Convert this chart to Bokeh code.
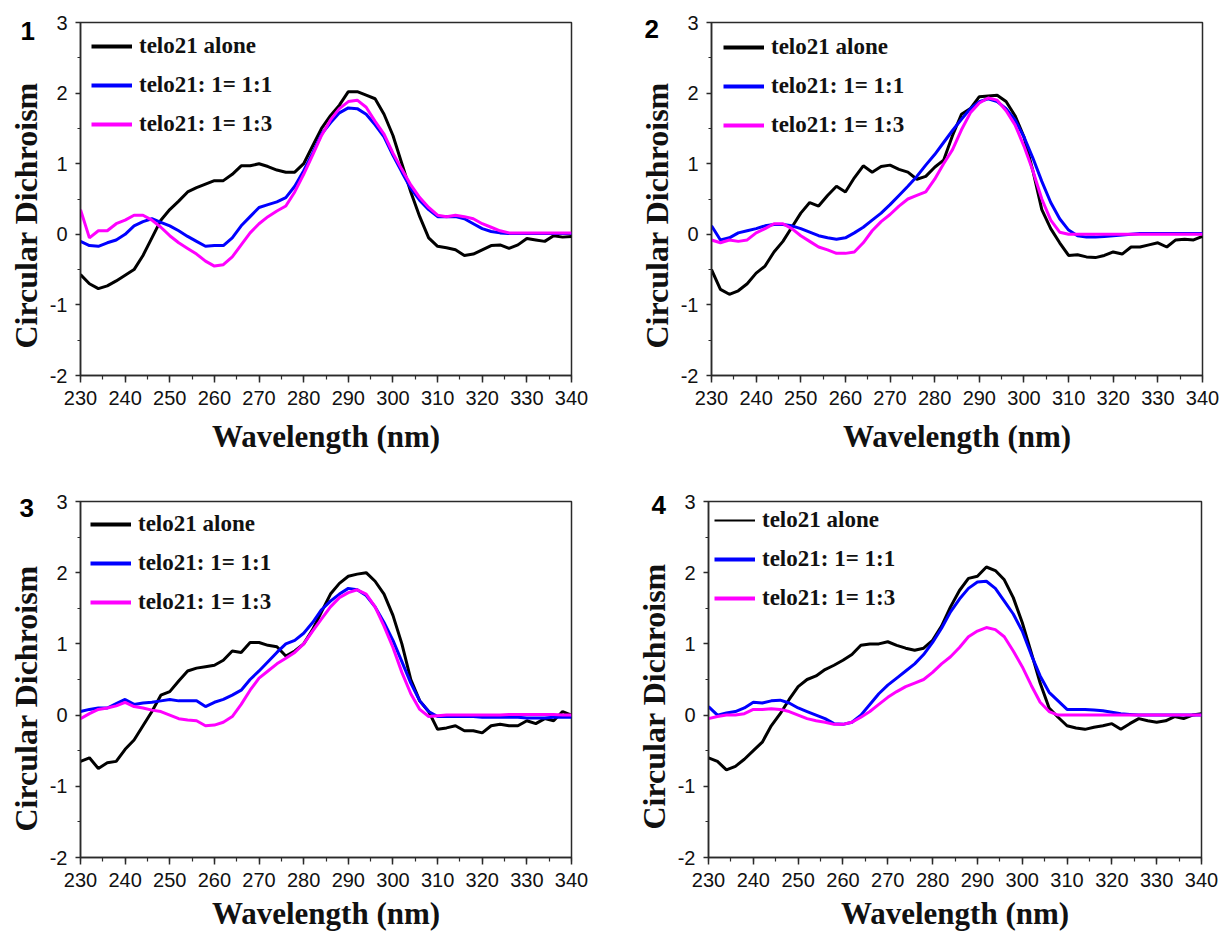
import math
from bokeh.plotting import figure
from bokeh.models import (Range1d, SingleIntervalTicker, LinearAxis,
                          Legend, LegendItem, Title)
from bokeh.layouts import column, row
from bokeh.embed import file_html
from bokeh.resources import INLINE

wavelength = list(range(230, 341, 2))

series_labels = ["telo21 alone", "telo21: 1= 1:1", "telo21: 1= 1:3"]
series_colors = ["#000000", "#0000FF", "#FF00FF"]
panel_names = ["1", "2", "3", "4"]
x_title = "Wavelength (nm)"
y_title = "Circular Dichroism"

p1_alone = [-0.57, -0.70, -0.77, -0.73, -0.66, -0.58, -0.50, -0.30, -0.05, 0.20,
            0.35, 0.47, 0.60, 0.66, 0.71, 0.76, 0.76, 0.85, 0.97, 0.97,
            1.00, 0.96, 0.91, 0.88, 0.88, 1.00, 1.25, 1.50, 1.68, 1.83,
            2.02, 2.02, 1.97, 1.92, 1.70, 1.40, 1.00, 0.60, 0.25, -0.05,
            -0.17, -0.19, -0.22, -0.30, -0.28, -0.22, -0.16, -0.15, -0.20, -0.15,
            -0.06, -0.08, -0.10, -0.02, -0.04, -0.03]
p1_r11 = [-0.10, -0.16, -0.17, -0.12, -0.08, 0.00, 0.12, 0.18, 0.22, 0.17,
          0.12, 0.05, -0.03, -0.10, -0.17, -0.16, -0.16, -0.05, 0.12, 0.25,
          0.38, 0.42, 0.46, 0.52, 0.68, 0.90, 1.15, 1.42, 1.58, 1.72,
          1.79, 1.78, 1.70, 1.55, 1.38, 1.12, 0.88, 0.65, 0.48, 0.35,
          0.25, 0.25, 0.25, 0.22, 0.15, 0.08, 0.04, 0.02, 0.01, 0.01,
          0.01, 0.01, 0.01, 0.01, 0.01, 0.01]
p1_r13 = [0.35, -0.05, 0.05, 0.05, 0.15, 0.20, 0.27, 0.27, 0.20, 0.10,
          -0.02, -0.12, -0.20, -0.28, -0.38, -0.45, -0.43, -0.32, -0.15, 0.02,
          0.15, 0.25, 0.33, 0.40, 0.60, 0.85, 1.12, 1.40, 1.62, 1.78,
          1.88, 1.90, 1.80, 1.60, 1.42, 1.15, 0.92, 0.70, 0.52, 0.38,
          0.27, 0.25, 0.27, 0.25, 0.22, 0.15, 0.10, 0.05, 0.02, 0.02,
          0.02, 0.02, 0.02, 0.02, 0.02, 0.02]

p2_alone = [-0.50, -0.78, -0.85, -0.80, -0.70, -0.55, -0.45, -0.25, -0.10, 0.10,
            0.30, 0.45, 0.40, 0.55, 0.68, 0.60, 0.80, 0.97, 0.88, 0.96,
            0.98, 0.92, 0.88, 0.78, 0.82, 0.95, 1.05, 1.40, 1.70, 1.78,
            1.95, 1.96, 1.97, 1.88, 1.68, 1.38, 0.90, 0.35, 0.08, -0.12,
            -0.30, -0.29, -0.32, -0.33, -0.30, -0.25, -0.28, -0.18, -0.18, -0.15,
            -0.12, -0.18, -0.08, -0.07, -0.08, -0.03]
p2_r11 = [0.12, -0.08, -0.05, 0.02, 0.05, 0.08, 0.12, 0.14, 0.14, 0.12,
          0.08, 0.03, -0.02, -0.05, -0.07, -0.05, 0.02, 0.10, 0.20, 0.30,
          0.42, 0.55, 0.68, 0.82, 0.98, 1.13, 1.30, 1.47, 1.63, 1.78,
          1.88, 1.92, 1.88, 1.78, 1.62, 1.38, 1.08, 0.75, 0.45, 0.22,
          0.06, -0.02, -0.04, -0.04, -0.03, -0.02, -0.01, 0.00, 0.01, 0.01,
          0.01, 0.01, 0.01, 0.01, 0.01, 0.01]
p2_r13 = [-0.08, -0.12, -0.08, -0.10, -0.08, 0.02, 0.08, 0.15, 0.15, 0.08,
          -0.02, -0.10, -0.18, -0.22, -0.27, -0.27, -0.25, -0.12, 0.05, 0.18,
          0.28, 0.40, 0.50, 0.55, 0.60, 0.78, 1.00, 1.20, 1.48, 1.72,
          1.86, 1.93, 1.90, 1.75, 1.55, 1.25, 0.90, 0.50, 0.20, 0.03,
          0.00, 0.00, 0.00, 0.00, 0.00, 0.00, 0.00, 0.00, 0.00, 0.00,
          0.00, 0.00, 0.00, 0.00, 0.00, 0.00]

p3_alone = [-0.65, -0.60, -0.75, -0.67, -0.65, -0.48, -0.35, -0.15, 0.05, 0.28,
            0.33, 0.48, 0.62, 0.66, 0.68, 0.70, 0.77, 0.90, 0.88, 1.02,
            1.02, 0.98, 0.96, 0.83, 0.90, 1.00, 1.20, 1.45, 1.70, 1.85,
            1.95, 1.98, 2.00, 1.88, 1.70, 1.40, 1.00, 0.50, 0.20, 0.05,
            -0.20, -0.18, -0.15, -0.22, -0.22, -0.25, -0.15, -0.13, -0.15, -0.15,
            -0.08, -0.12, -0.05, -0.08, 0.05, 0.00]
p3_r11 = [0.05, 0.08, 0.10, 0.10, 0.16, 0.22, 0.15, 0.17, 0.18, 0.20,
          0.22, 0.20, 0.20, 0.20, 0.12, 0.18, 0.22, 0.28, 0.35, 0.50,
          0.62, 0.75, 0.88, 1.00, 1.05, 1.15, 1.30, 1.48, 1.60, 1.70,
          1.78, 1.76, 1.68, 1.52, 1.30, 1.05, 0.75, 0.45, 0.20, 0.05,
          -0.02, -0.02, -0.02, -0.02, -0.02, -0.03, -0.03, -0.03, -0.03, -0.03,
          -0.04, -0.04, -0.04, -0.03, -0.03, -0.03]
p3_r13 = [-0.05, 0.02, 0.08, 0.10, 0.13, 0.18, 0.12, 0.10, 0.07, 0.05,
          0.00, -0.05, -0.07, -0.08, -0.15, -0.14, -0.10, -0.02, 0.15, 0.35,
          0.52, 0.62, 0.72, 0.80, 0.88, 1.00, 1.18, 1.35, 1.52, 1.65,
          1.72, 1.76, 1.70, 1.52, 1.25, 0.95, 0.60, 0.30, 0.08, -0.02,
          -0.01, 0.00, 0.00, 0.00, 0.00, 0.00, 0.00, 0.00, 0.01, 0.01,
          0.01, 0.01, 0.01, 0.01, 0.00, 0.00]

p4_alone = [-0.60, -0.65, -0.77, -0.72, -0.62, -0.50, -0.38, -0.15, 0.02, 0.22,
            0.40, 0.50, 0.55, 0.64, 0.70, 0.77, 0.85, 0.98, 1.00, 1.00,
            1.03, 0.98, 0.94, 0.91, 0.94, 1.05, 1.25, 1.52, 1.75, 1.92,
            1.95, 2.08, 2.03, 1.90, 1.65, 1.30, 0.88, 0.45, 0.10, -0.03,
            -0.15, -0.18, -0.20, -0.17, -0.15, -0.12, -0.20, -0.12, -0.05, -0.08,
            -0.10, -0.08, -0.02, -0.05, 0.00, 0.02]
p4_r11 = [0.12, 0.00, 0.03, 0.05, 0.10, 0.18, 0.17, 0.20, 0.21, 0.17,
          0.10, 0.05, 0.00, -0.05, -0.12, -0.13, -0.10, 0.00, 0.15, 0.30,
          0.42, 0.52, 0.62, 0.72, 0.85, 1.02, 1.22, 1.45, 1.63, 1.78,
          1.87, 1.88, 1.78, 1.60, 1.42, 1.18, 0.85, 0.55, 0.32, 0.20,
          0.08, 0.08, 0.08, 0.07, 0.06, 0.04, 0.02, 0.01, 0.00, 0.00,
          0.00, 0.00, 0.00, 0.00, 0.00, 0.00]
p4_r13 = [-0.05, -0.02, 0.00, 0.00, 0.02, 0.08, 0.08, 0.09, 0.08, 0.05,
          0.00, -0.05, -0.08, -0.10, -0.13, -0.13, -0.10, -0.03, 0.05, 0.15,
          0.25, 0.33, 0.40, 0.45, 0.50, 0.60, 0.72, 0.82, 0.95, 1.10,
          1.18, 1.23, 1.20, 1.10, 0.90, 0.68, 0.42, 0.18, 0.05, 0.00,
          0.00, 0.00, 0.00, 0.00, 0.00, 0.00, 0.00, 0.00, 0.00, 0.00,
          0.00, 0.00, 0.00, 0.00, 0.00, 0.00]

X_MIN, X_MAX = 230, 340
Y_MIN, Y_MAX = -2, 3

AX_COLOR = "#2a2a2a"
TXT = "#111111"
SANS = "Liberation Sans"
SERIF = "Liberation Serif"
NAN = float("nan")


def make_panel(name, data, width, height, borders, legend_margin, ytitle_offset,
               xtitle_standoff, num_offset, num_standoff, black_legend_w=4):
    left, right, top, bottom = borders
    p = figure(width=width, height=height, output_backend="svg",
               toolbar_location=None, x_range=Range1d(X_MIN, X_MAX),
               y_range=Range1d(Y_MIN, Y_MAX),
               min_border_left=left, min_border_right=right,
               min_border_top=top, min_border_bottom=bottom,
               x_axis_type=None, y_axis_type=None)
    p.xgrid.visible = False
    p.ygrid.visible = False
    p.outline_line_color = AX_COLOR
    p.outline_line_width = 1.5
    p.background_fill_color = "white"
    p.border_fill_color = "white"

    xb = LinearAxis(ticker=SingleIntervalTicker(interval=10, num_minor_ticks=2))
    xb.major_tick_out = 7
    xb.major_tick_in = 0
    xb.minor_tick_out = 4
    xb.minor_tick_in = 0
    xb.major_label_standoff = 8
    xb.axis_label = x_title
    xb.axis_label_standoff = xtitle_standoff
    xb.axis_label_text_font = SERIF
    xb.axis_label_text_font_style = "bold"
    xb.axis_label_text_font_size = "31px"
    xb.axis_label_text_color = TXT
    yl = LinearAxis(ticker=SingleIntervalTicker(interval=1, num_minor_ticks=2))
    yl.major_tick_out = 5
    yl.major_tick_in = 0
    yl.minor_tick_out = 3
    yl.minor_tick_in = 0
    yl.major_label_standoff = 8
    yl.major_label_overrides = {-2: "-2", -1: "-1"}
    for ax in (xb, yl):
        ax.major_label_text_font = SANS
        ax.major_label_text_font_size = "20px"
        ax.major_label_text_color = TXT
        ax.axis_line_color = AX_COLOR
        ax.axis_line_width = 1.5
        ax.major_tick_line_color = AX_COLOR
        ax.major_tick_line_width = 1.5
        ax.minor_tick_line_color = AX_COLOR
        ax.minor_tick_line_width = 1.2
    p.add_layout(xb, "below")
    p.add_layout(yl, "left")
    p.add_layout(Title(text=y_title, align="left", offset=ytitle_offset, standoff=6,
                       text_font=SERIF, text_font_style="bold",
                       text_font_size="32px", text_color=TXT), "left")

    for vals, col in zip(data, series_colors):
        p.line(wavelength, vals, line_color=col, line_width=3)
    items = []
    for i, (lab, col) in enumerate(zip(series_labels, series_colors)):
        lw = black_legend_w if i == 0 else 4
        r = p.line(x=[NAN], y=[NAN], line_color=col, line_width=lw)
        items.append(LegendItem(label=lab, renderers=[r]))
    leg = Legend(items=items, location="top_left")
    leg.margin = legend_margin
    leg.padding = 0
    leg.border_line_color = None
    leg.background_fill_alpha = 0
    leg.glyph_width = 41
    leg.glyph_height = 24
    leg.label_height = 24
    leg.spacing = 13
    leg.label_standoff = 7
    leg.label_text_font = SERIF
    leg.label_text_font_style = "bold"
    leg.label_text_font_size = "23px"
    leg.label_text_color = TXT
    p.add_layout(leg)

    num = Title(text=name, align="left", offset=num_offset, standoff=0,
                vertical_align="bottom", text_font=SANS, text_font_style="bold",
                text_font_size="26px", text_color="#000000")
    try:
        num.standoff = num_standoff
    except Exception:
        num.standoff = 0
    p.add_layout(num, "above")
    return p


p1 = make_panel(panel_names[0], [p1_alone, p1_r11, p1_r13], 600, 470,
                (80, 29, 22, 95), 11, 27, 11, -60, -34)
p2 = make_panel(panel_names[1], [p2_alone, p2_r11, p2_r13], 619, 470,
                (111, 17, 20, 95), 12, 27, 11, -67, -30)
p3 = make_panel(panel_names[2], [p3_alone, p3_r11, p3_r13], 600, 463,
                (80, 29, 31, 76), 10, 26, 6, -61, -31)
p4 = make_panel(panel_names[3], [p4_alone, p4_r11, p4_r13], 619, 463,
                (108, 18, 31, 76), 6, 28, 6, -57, -25, black_legend_w=2)

layout = column(row(p1, p2), row(p3, p4))
open("out.html", "w").write(file_html(layout, INLINE))
